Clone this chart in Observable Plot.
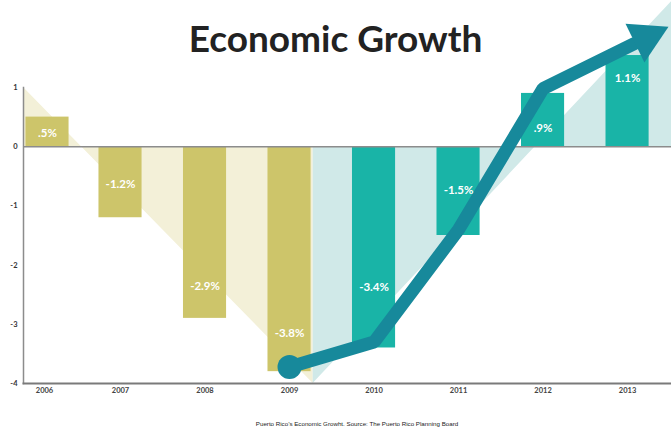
<!DOCTYPE html>
<html><head><meta charset="utf-8">
<script src="https://cdn.jsdelivr.net/npm/d3@7"></script>
<script src="https://cdn.jsdelivr.net/npm/@observablehq/plot@0.6"></script>
<style>
body{margin:0;background:#fff;}
#wrap{position:relative;width:671px;height:433px;overflow:hidden;background:#fff;}
#title{position:absolute;left:0;width:671px;top:16px;text-align:center;font:700 37px/1.2 Lato,sans-serif;color:#222;}
#cap{position:absolute;left:0;width:714px;top:421px;text-align:center;font:400 6.2px/1 "Liberation Sans",sans-serif;color:#222;}
</style></head><body>
<div id="wrap"><div id="chart"></div><div id="title">Economic Growth</div><div id="cap">Puerto Rico’s Economic Growht. Source: The Puerto Rico Planning Board</div></div>
<script>
// data
const years = [2006, 2007, 2008, 2009, 2010, 2011, 2012, 2013];
const barValues = [0.5, -1.2, -2.9, -3.8, -3.4, -1.5, 0.9, 1.54];
const labels = [".5%", "-1.2%", "-2.9%", "-3.8%", "-3.4%", "-1.5%", ".9%", "1.1%"];
const labelAt = [0.22, -0.64, -2.36, -3.16, -2.38, -0.74, 0.31, 1.15];
const yTicks = [1, 0, -1, -2, -3, -4];
// decorative background wedges (edge lines, in years / percent)
const yellowEdgeX = [2005.852, 2009.28];
const yellowEdgeY = [1, -4];
const tealEdgeX = [2009.28, 2013.52];
const tealEdgeY = [-4, 2.45];
// trend arrow path
const arrowX = [2009, 2010, 2011, 2012, 2013.08];
const arrowY = [-3.72, -3.3, -1.4, 0.98, 1.74];
const headX = [2013.22];
const headY = [1.84];

const bars = years.map((year, i) => ({year, value: barValues[i], label: labels[i], at: labelAt[i]}));
const yellowEdge = yellowEdgeX.map((x, i) => ({x, y: yellowEdgeY[i]}));
const tealEdge = tealEdgeX.map((x, i) => ({x, y: tealEdgeY[i]}));
const arrow = arrowX.map((x, i) => ({x, y: arrowY[i]}));
const head = headX.map((x, i) => ({x, y: headY[i]}));

const yellow = "#cdc56a", lightYellow = "#f3f0d8";
const teal = "#19b4a7", lightTeal = "#d0e9e8";
const arrowColor = "#17899b";

// the first year sits a little closer to the axis than a regular step, as in the original
const firstShift = 11.5;
const isFirst = d => d.year === years[0];
const barOpts = (extra) => ({x1: d => d.year - 0.255, x2: d => d.year + 0.255, y1: () => 0, y2: "value",
  fill: d => d.year < 2010 ? yellow : teal, ...extra});
const axisOpts = {tickSize: 0, tickPadding: 4, fontSize: 7.5, fontWeight: 700, fill: "#444",
  tickFormat: d => String(d), label: null};

const chart = Plot.plot({
  width: 671, height: 433,
  marginLeft: 23, marginRight: 0, marginTop: 87, marginBottom: 50,
  x: {domain: [2005.852, 2013.52]},
  y: {domain: [-4, 1]},
  style: {fontFamily: "Lato, sans-serif", background: "transparent", overflow: "visible"},
  marks: [
    Plot.areaY(yellowEdge, {x: "x", y1: () => 0, y2: "y", fill: lightYellow}),
    Plot.areaY(tealEdge, {x: "x", y1: () => 0, y2: "y", fill: lightTeal}),
    Plot.rectY(bars.filter(isFirst), barOpts({dx: firstShift})),
    Plot.rectY(bars.filter(d => !isFirst(d)), barOpts({})),
    Plot.ruleY([0], {stroke: "#8c8c8c", strokeWidth: 1.5}),
    Plot.axisY({ticks: yTicks, tickSize: 0, tickPadding: 6, fontSize: 7.5, fontWeight: 700, fill: "#333",
      tickFormat: d => String(d), label: null}),
    Plot.axisX({ticks: years.slice(0, 1), dx: firstShift - 3, ...axisOpts}),
    Plot.axisX({ticks: years.slice(1), ...axisOpts}),
    Plot.frame({anchor: "left", stroke: "#8c8c8c", strokeWidth: 1.5}),
    Plot.frame({anchor: "bottom", stroke: "#7a7a7a", strokeWidth: 2}),
    Plot.line(arrow, {x: "x", y: "y", stroke: arrowColor, strokeWidth: 13, strokeLinejoin: "miter"}),
    Plot.dot(arrow.slice(0, 1), {x: "x", y: "y", r: 12, fill: arrowColor}),
    Plot.dot(head, {x: "x", y: "y", symbol: "triangle", r: 16, rotate: 64, fill: arrowColor}),
    Plot.text(bars.filter(isFirst), {x: "year", y: "at", text: "label", dx: firstShift, fill: "white", fontSize: 11.5, fontWeight: 700}),
    Plot.text(bars.filter(d => !isFirst(d)), {x: "year", y: "at", text: "label", fill: "white", fontSize: 11.5, fontWeight: 700})
  ]
});
document.getElementById("chart").append(chart);
</script>
</body></html>
